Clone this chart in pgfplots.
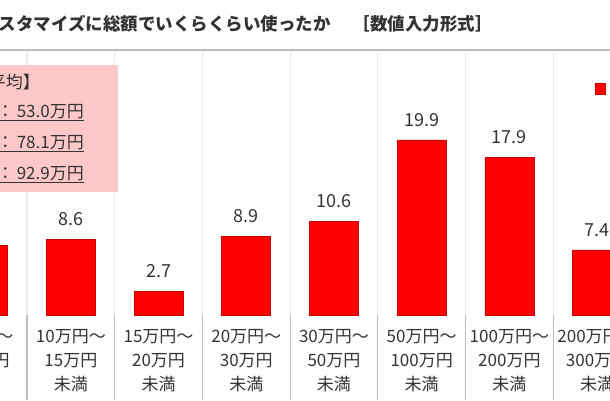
\documentclass[border=0pt]{standalone}
\usepackage{pgfplots}
\pgfplotsset{compat=1.18}
\usepackage{fontspec}
\setmainfont{Noto Sans CJK JP}
\definecolor{barred}{HTML}{FF0000}
\definecolor{baredge}{HTML}{CC0000}
\definecolor{boxpink}{HTML}{FFC8C8}
\definecolor{txt}{HTML}{333333}
\definecolor{sepA}{HTML}{EBEBEB}
\definecolor{sepB}{HTML}{BEBEBE}
\definecolor{topline}{HTML}{BDBDBD}
\begin{document}
\begin{tikzpicture}[x=1bp,y=1bp]
\useasboundingbox (0,0) rectangle (610,400);
\clip (0,0) rectangle (610,400);
\begin{axis}[
  at={(-60.7bp,85bp)}, anchor=south west,
  scale only axis, width=701.6bp, height=265bp,
  xmin=-0.5, xmax=7.5, ymin=0, ymax=30.13,
  enlargelimits=false,
  ybar, bar width=49bp,
  axis line style={draw=none},
  ytick=\empty,
  xtick={0,1,2,3,4,5,6,7},
  xticklabels={{5万円～\\10万円\\未満},{10万円～\\15万円\\未満},{15万円～\\20万円\\未満},{20万円～\\30万円\\未満},{30万円～\\50万円\\未満},{50万円～\\100万円\\未満},{100万円～\\200万円\\未満},{200万円～\\300万円\\未満}},
  xticklabel style={align=center, font=\fontsize{17bp}{24bp}\selectfont, text=txt, yshift=-11bp},
  major tick length=0pt,
  xtick pos=bottom,
  extra x ticks={-0.5,0.5,1.5,2.5,3.5,4.5,5.5,6.5,7.5},
  extra x tick labels={},
  extra x tick style={grid=major, major grid style={draw=sepA, line width=1.2bp}, major tick style={draw=sepB, line width=1.2bp}, major tick length=85bp, tick align=outside},
  /pgf/number format/fixed, /pgf/number format/fixed zerofill, /pgf/number format/precision=1, /pgf/number format/assume math mode=true,
  nodes near coords,
  every node near coord/.append style={font=\fontsize{18bp}{20bp}\selectfont, text=txt, yshift=10bp},
  legend style={at={(0.9346,0.8547)}, anchor=west, draw=none, fill=none, inner sep=0pt, font=\fontsize{16bp}{18bp}\selectfont, text=txt},
  after end axis/.code={\draw[topline, line width=1.5bp] (rel axis cs:0,1) -- (rel axis cs:1,1);},
]
\addplot[fill=barred, draw=baredge, line width=0.6bp,
  legend image code/.code={\fill[barred, draw=baredge, line width=0.6bp] (0bp,-5.5bp) rectangle (10bp,5.5bp);}]
  coordinates {(0,7.9) (1,8.6) (2,2.7) (3,8.9) (4,10.6) (5,19.9) (6,17.9) (7,7.4)};
\addlegendentry{\hspace{12bp}全体}
\end{axis}
\node[anchor=west, inner sep=0, font=\bfseries\fontsize{17.5bp}{20bp}\selectfont, text=txt] at (-19,376) {カスタマイズに総額でいくらくらい使ったか\hspace{22bp}［数値入力形式］};
\fill[boxpink] (-20,208) rectangle (118,335);
\begin{scope}[every node/.style={anchor=east, inner sep=0, font=\fontsize{17bp}{18bp}\selectfont, text=txt}]
\node at (40,318) {【平均】};
\node at (84,287) {\underline{：\,53.0万円}};
\node at (84,256) {\underline{：\,78.1万円}};
\node at (84,225) {\underline{：\,92.9万円}};
\end{scope}
\end{tikzpicture}
\end{document}
